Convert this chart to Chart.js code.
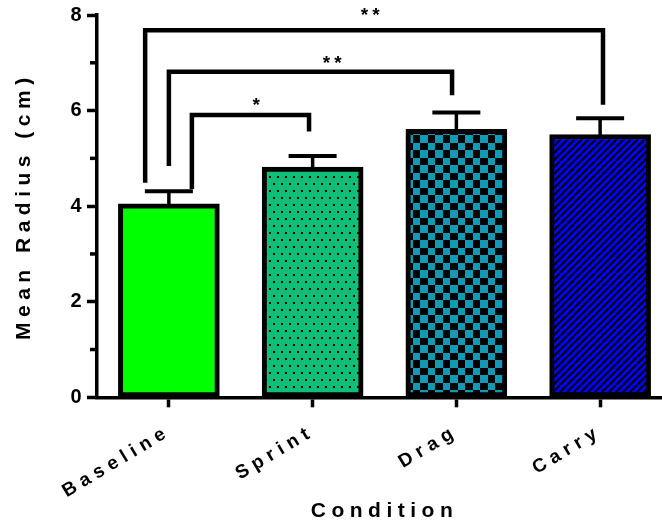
<!DOCTYPE html>
<html>
<head>
<meta charset="utf-8">
<script src="https://cdn.jsdelivr.net/npm/chart.js@4"></script>
<style>
  html, body { margin: 0; padding: 0; background: #fff; overflow: hidden; }
  #wrap { width: 680px; height: 521px; }
</style>
</head>
<body>
<div id="wrap"><canvas id="chart" width="680" height="521"></canvas></div>
<script>
const conditions = ["Baseline", "Sprint", "Drag", "Carry"];
const meanRadius = [4.05, 4.82, 5.61, 5.50];
const semRadius = [0.26, 0.23, 0.35, 0.34];
const yTicks = [0, 2, 4, 6, 8];

// significance brackets (Baseline vs each condition)
const bracketFrom = [0, 0, 0];
const bracketTo = [1, 2, 3];
const bracketLevel = [5.91, 6.81, 7.68];
const bracketLeftEnd = [4.36, 4.84, 4.49];
const bracketRightEnd = [5.56, 6.32, 6.12];
const bracketLabel = ["*", "**", "**"];

const FONT = "'Liberation Sans', Arial, sans-serif";
const ctx = document.getElementById("chart").getContext("2d");

function makePattern(w, h, draw) {
  const c = document.createElement("canvas");
  c.width = w;
  c.height = h;
  draw(c.getContext("2d"));
  return ctx.createPattern(c, "repeat");
}

const dots = makePattern(8, 14, g => {
  g.fillStyle = "#10be7a";
  g.fillRect(0, 0, 8, 14);
  g.fillStyle = "#000";
  g.fillRect(1, 1, 2, 2);
  g.fillRect(5, 8, 2, 2);
});

const checks = makePattern(15, 15, g => {
  g.fillStyle = "#000";
  g.fillRect(0, 0, 15, 15);
  g.fillStyle = "#1399b3";
  g.fillRect(0, 0, 8, 8);
  g.fillRect(8, 8, 7, 7);
});

const stripes = makePattern(7, 7, g => {
  g.fillStyle = "#0000ff";
  g.fillRect(0, 0, 7, 7);
  g.strokeStyle = "#000";
  g.lineWidth = 2.2;
  for (const k of [-7, 0, 7]) {
    g.beginPath();
    g.moveTo(k, 7);
    g.lineTo(k + 7, 0);
    g.stroke();
  }
});

const letterSpacing = {
  id: "letterSpacing",
  beforeUpdate(chart) { chart.ctx.letterSpacing = "5.5px"; },
  beforeDraw(chart) { chart.ctx.letterSpacing = "5.5px"; }
};

// error bars, minor ticks and significance brackets
const annotations = {
  id: "annotations",
  afterDatasetsDraw(chart) {
    const { x, y } = chart.scales;
    const c = chart.ctx;
    const step = x.getPixelForValue(1) - x.getPixelForValue(0);
    c.save();
    c.strokeStyle = "#000";
    c.fillStyle = "#000";

    meanRadius.forEach((m, i) => {
      const cx = x.getPixelForValue(i);
      const top = y.getPixelForValue(m + semRadius[i]);
      c.lineWidth = 3.5;
      c.beginPath();
      c.moveTo(cx, y.getPixelForValue(m) + 3);
      c.lineTo(cx, top);
      c.stroke();
      c.lineWidth = 4;
      c.beginPath();
      c.moveTo(cx - 24, top);
      c.lineTo(cx + 24, top);
      c.stroke();
    });

    // minor ticks on y
    c.lineWidth = 3.5;
    [1, 3, 5, 7].forEach(v => {
      const py = y.getPixelForValue(v);
      c.beginPath();
      c.moveTo(chart.chartArea.left - 7, py);
      c.lineTo(chart.chartArea.left, py);
      c.stroke();
    });

    const leftOff = [0.16, 0.0, -0.165];
    const rightOff = [-0.025, -0.03, 0.02];
    const labelPos = [0.607, 1.136, 1.40];
    const labelGap = [12, 11.5, 18];
    c.lineWidth = 4.5;
    c.lineJoin = "miter";
    c.font = "bold 19px " + FONT;
    c.letterSpacing = "4px";
    c.textAlign = "center";
    c.textBaseline = "middle";
    bracketLevel.forEach((lvl, i) => {
      const x0 = x.getPixelForValue(bracketFrom[i]) + leftOff[i] * step;
      const x1 = x.getPixelForValue(bracketTo[i]) + rightOff[i] * step;
      const py = y.getPixelForValue(lvl);
      c.beginPath();
      c.moveTo(x0, y.getPixelForValue(bracketLeftEnd[i]));
      c.lineTo(x0, py);
      c.lineTo(x1, py);
      c.lineTo(x1, y.getPixelForValue(bracketRightEnd[i]));
      c.stroke();
      const lx = x.getPixelForValue(0) + labelPos[i] * step;
      c.fillText(bracketLabel[i], lx + 2, py - labelGap[i] + 3);
    });
    c.restore();
  }
};

new Chart(ctx, {
  type: "bar",
  data: {
    labels: conditions,
    datasets: [
      {
        data: meanRadius,
        backgroundColor: ["#00ff00", dots, checks, stripes],
        borderColor: "#000",
        borderWidth: 5,
        borderSkipped: false,
        barThickness: 101,
      },
    ],
  },
  options: {
    responsive: false,
    animation: false,
    events: [],
    layout: { padding: { top: 15, right: 8, left: 0, bottom: 0 } },
    plugins: {
      legend: { display: false },
      tooltip: { enabled: false },
    },
    scales: {
      x: {
        grid: { display: true, drawOnChartArea: false, offset: false, tickLength: 10, tickWidth: 3.5, tickColor: "#000" },
        border: { display: true, color: "#000", width: 3.5 },
        ticks: { color: "#000", font: { family: FONT, size: 19, weight: "bold" }, minRotation: 31, maxRotation: 31, padding: 13 },
        title: { display: true, text: "Condition", color: "#000", font: { family: FONT, size: 21, weight: "bold" }, padding: { top: 0, bottom: -3 } },
        afterFit: s => { s.height = 123.7; },
      },
      y: {
        min: 0,
        max: 8,
        afterBuildTicks: s => { s.ticks = yTicks.map(v => ({ value: v })); },
        grid: { display: true, drawOnChartArea: false, tickLength: 10, tickWidth: 3.5, tickColor: "#000" },
        border: { display: true, color: "#000", width: 3.5 },
        ticks: { color: "#000", font: { family: FONT, size: 20, weight: "bold" }, padding: 0 },
        title: { display: true, text: "Mean Radius (cm)", color: "#000", font: { family: FONT, size: 21, weight: "bold" }, padding: { top: 12, bottom: 0 } },
        afterFit: s => { s.width = 97; },
      },
    },
  },
  plugins: [letterSpacing, annotations],
});
</script>
</body>
</html>
